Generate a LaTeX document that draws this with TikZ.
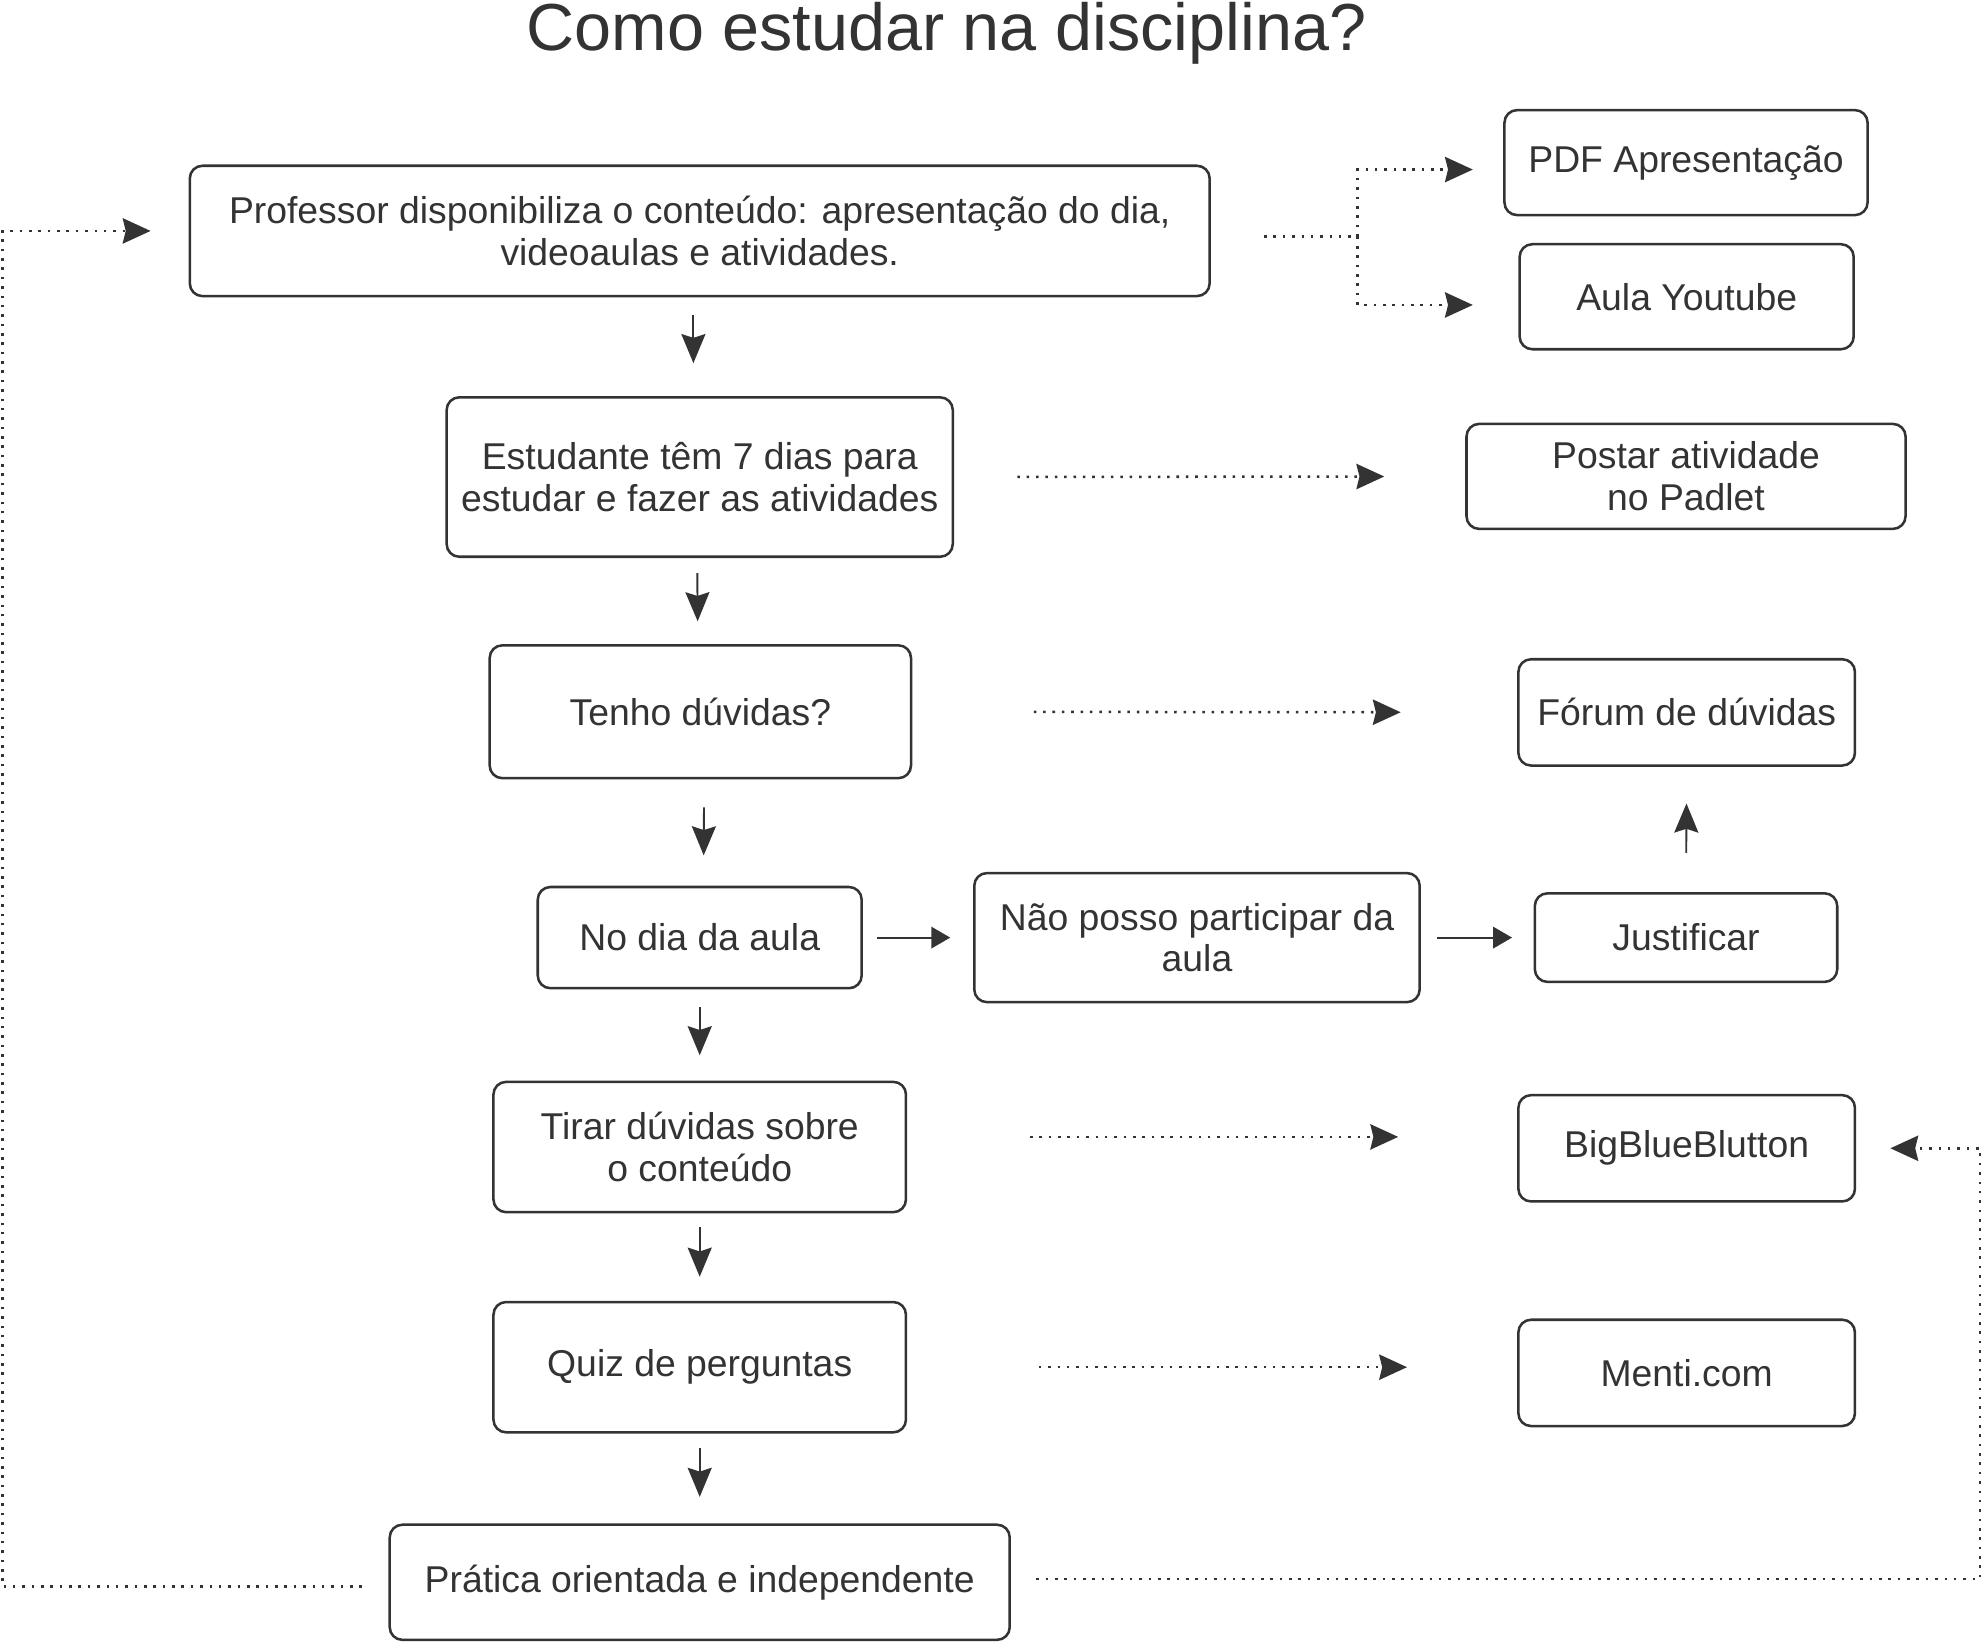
\documentclass[tikz,border=0pt]{standalone}
\usepackage{fontspec}
\setmainfont{Liberation Sans}
\usetikzlibrary{arrows.meta}
\definecolor{ink}{HTML}{333333}
\begin{document}
\begin{tikzpicture}[x=0.5pt, y=-0.5pt, color=ink, text=ink,
        box/.style={draw=ink, line width=1pt, rounded corners=5pt, align=center, inner sep=0pt,
                    font=\fontsize{14.75}{16.5}\selectfont},
        go/.style={line width=0.75pt, -{Stealth[length=11.5pt, width=9.5pt, inset=1.5pt]}},
        goside/.style={line width=0.75pt, -{Triangle[length=7.5pt, width=8.5pt]}},
        dots/.style={line width=1pt, dash pattern=on 1pt off 2.7pt},
        dotgo/.style={dots, -{Stealth[length=11pt, width=10pt, inset=1.2pt]}}]
    \useasboundingbox (0,0) rectangle (1568,1297);

    \node[anchor=base, font=\fontsize{26.3}{30}\selectfont] (title) at (748,40) {Como estudar na disciplina?};

    \node[box, minimum width=403pt, minimum height=51.5pt] (prof) at (553,182.5)
        {Professor disponibiliza o conteúdo: apresentação do dia,\\videoaulas e atividades.};
    \node[box, minimum width=200pt, minimum height=63pt] (estud) at (553,377)
        {Estudante têm 7 dias para\\estudar e fazer as atividades};
    \node[box, minimum width=166.5pt, minimum height=52.5pt] (duvidas) at (553.5,562.5) {Tenho dúvidas?};
    \node[box, minimum width=128pt, minimum height=40pt] (nodia) at (553,741) {No dia da aula};
    \node[box, minimum width=176pt, minimum height=51pt] (naoposso) at (946,741) {Não posso participar da\\aula};
    \node[box, minimum width=163pt, minimum height=51.5pt] (tirar) at (553,906.5) {Tirar dúvidas sobre\\o conteúdo};
    \node[box, minimum width=163pt, minimum height=51.5pt] (quiz) at (553,1080.5) {Quiz de perguntas};
    \node[box, minimum width=245pt, minimum height=45.5pt] (pratica) at (553,1250.5) {Prática orientada e independente};

    \node[box, minimum width=143.5pt, minimum height=41.5pt] (pdf) at (1332.5,128.5) {PDF Apresentação};
    \node[box, minimum width=132pt, minimum height=41.5pt] (youtube) at (1333,234.5) {Aula Youtube};
    \node[box, minimum width=173.5pt, minimum height=41.5pt] (padlet) at (1332.5,376.5) {Postar atividade\\no Padlet};
    \node[box, minimum width=133pt, minimum height=42pt] (forum) at (1333,563) {Fórum de dúvidas};
    \node[box, minimum width=119.5pt, minimum height=35pt] (justif) at (1332.5,741) {Justificar};
    \node[box, minimum width=133pt, minimum height=42pt] (bbb) at (1333,907.5) {BigBlueBlutton};
    \node[box, minimum width=133pt, minimum height=42pt] (menti) at (1333,1085) {Menti.com};

    % main flow
    \draw[go, shorten <=7pt, shorten >=13pt] ([xshift=-2.5pt]prof.south) -- ([xshift=-2.5pt]estud.north);
    \draw[go, shorten <=6pt, shorten >=9pt] ([xshift=-1pt]estud.south) -- ([xshift=-1pt]duvidas.north);
    \draw[go, shorten <=11pt, shorten >=12pt] ([xshift=1.5pt]duvidas.south) -- ([xshift=1.5pt]nodia.north);
    \draw[go, shorten <=7pt, shorten >=10pt] (nodia.south) -- (tirar.north);
    \draw[go, shorten <=5.5pt, shorten >=9.5pt] (tirar.south) -- (quiz.north);
    \draw[go, shorten <=5.5pt, shorten >=10.5pt] (quiz.south) -- (pratica.north);

    \draw[goside, shorten <=5.5pt, shorten >=9pt] (nodia.east) -- (naoposso.west);
    \draw[goside, shorten <=6.5pt, shorten >=8.5pt] (naoposso.east) -- (justif.west);
    \draw[go, shorten <=15.5pt, shorten >=14.5pt] (justif.north) -- (forum.south);

    % tools
    \coordinate (fork) at (1073,187);
    \draw[dots, shorten <=21pt] ([yshift=-2.25pt]prof.east) -- (fork);
    \draw[dotgo, shorten >=12pt] (fork) |- ([yshift=-2.75pt]pdf.west);
    \draw[dotgo, shorten >=18pt] (fork) |- ([yshift=-3.25pt]youtube.west);
    \draw[dotgo, shorten <=25pt, shorten >=32pt] (estud.east) -- (padlet.west);
    \draw[dotgo, shorten <=48pt, shorten >=46pt] (duvidas.east) -- (forum.west);
    \draw[dotgo, shorten <=48.5pt, shorten >=47pt] ([yshift=4pt]tirar.east) -- ([yshift=4pt]tirar.east -| bbb.west);
    \draw[dotgo, shorten <=52pt, shorten >=43.5pt] (quiz.east) -- (quiz.east -| menti.west);

    % loops back
    \coordinate (lx) at (2,0);
    \coordinate (rx) at (1565,0);
    \draw[dotgo, shorten <=10.5pt, shorten >=15pt] ([yshift=-1.75pt]pratica.west) -| (lx |- prof.west) -- (prof.west);
    \draw[dotgo, shorten <=10pt, shorten >=13.5pt] ([yshift=1.25pt]pratica.east) -| (rx |- bbb.east) -- (bbb.east);
\end{tikzpicture}
\end{document}
